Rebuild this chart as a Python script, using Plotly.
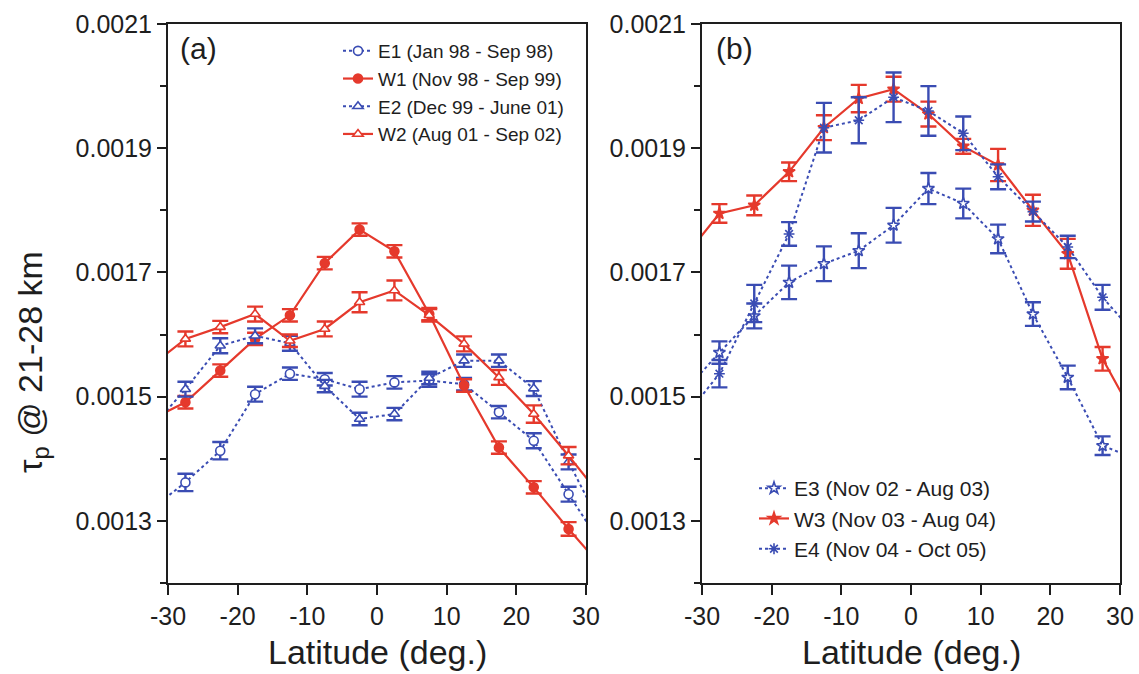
import plotly.graph_objects as go

# Latitude bin centres (deg.)
lat = [-27.5, -22.5, -17.5, -12.5, -7.5, -2.5, 2.5, 7.5, 12.5, 17.5, 22.5, 27.5]
# neighbouring bins just outside the plotted +/-30 deg window (only their connecting lines show)
lat_out = (-32.5, 32.5)

# ---- panel (a) ----
e1 = [0.001362, 0.001413, 0.001504, 0.001537, 0.001528, 0.001512,
      0.001523, 0.001526, 0.001520, 0.001475, 0.001429, 0.001343]
e1_err = [0.000014, 0.000014, 0.000012, 0.000010, 0.000010, 0.000012,
          0.000010, 0.000010, 0.000010, 0.000010, 0.000012, 0.000012]
e1_out = (0.001318, 0.001257)

w1 = [0.001491, 0.001542, 0.001593, 0.001631, 0.001715, 0.001769,
      0.001734, 0.001633, 0.001518, 0.001418, 0.001354, 0.001287]
w1_err = [0.000010, 0.000010, 0.000010, 0.000010, 0.000010, 0.000010,
          0.000010, 0.000010, 0.000010, 0.000010, 0.000010, 0.000011]
w1_out = (0.001463, 0.001223)

e2 = [0.001512, 0.001582, 0.001598, 0.001586, 0.001517, 0.001464,
      0.001472, 0.001530, 0.001558, 0.001558, 0.001513, 0.001395]
e2_err = [0.000012, 0.000012, 0.000012, 0.000012, 0.000010, 0.000010,
          0.000010, 0.000010, 0.000010, 0.000010, 0.000012, 0.000012]
e2_out = (0.001448, 0.001285)

w2 = [0.001593, 0.001612, 0.001633, 0.001590, 0.001609, 0.001652,
      0.001671, 0.001631, 0.001585, 0.001531, 0.001472, 0.001405]
w2_err = [0.000012, 0.000010, 0.000012, 0.000010, 0.000012, 0.000016,
          0.000016, 0.000010, 0.000012, 0.000012, 0.000014, 0.000014]
w2_out = (0.001549, 0.001335)

# ---- panel (b) ----
e3 = [0.001571, 0.001630, 0.001684, 0.001714, 0.001735, 0.001776,
      0.001835, 0.001811, 0.001754, 0.001633, 0.001531, 0.001421]
e3_err = [0.000018, 0.000020, 0.000027, 0.000028, 0.000028, 0.000028,
          0.000025, 0.000024, 0.000023, 0.000019, 0.000019, 0.000015]
e3_out = (0.001509, 0.001399)

w3 = [0.001795, 0.001808, 0.001862, 0.001933, 0.001980, 0.001995,
      0.001955, 0.001903, 0.001873, 0.001800, 0.001730, 0.001561]
w3_err = [0.000015, 0.000016, 0.000015, 0.000020, 0.000022, 0.000020,
          0.000020, 0.000012, 0.000026, 0.000025, 0.000024, 0.000019]
w3_out = (0.001725, 0.001459)

e4 = [0.001537, 0.001650, 0.001762, 0.001933, 0.001945, 0.001982,
      0.001960, 0.001924, 0.001854, 0.001798, 0.001741, 0.001660]
e4_err = [0.000022, 0.000030, 0.000019, 0.000040, 0.000037, 0.000040,
          0.000040, 0.000027, 0.000020, 0.000016, 0.000018, 0.000020]
e4_out = (0.001467, 0.001596)

y_ticks = [0.0013, 0.0015, 0.0017, 0.0019, 0.0021]
y_ticktext = ["0.0013", "0.0015", "0.0017", "0.0019", "0.0021"]
y_minor = [0.0012, 0.0014, 0.0016, 0.0018, 0.0020]
x_ticks = [-30, -20, -10, 0, 10, 20, 30]
x_ticktext = ["-30", "-20", "-10", "0", "10", "20", "30"]

BLUE = "#3a4cb3"
RED = "#e5392c"
INK = "#1e1e1e"
FONT = "Liberation Sans, Arial, Helvetica, sans-serif"

W, H = 1139, 674


def series(name, vals, errs, outs, color, dash, symbol, fill, xa, ya, legend):
    xs = [lat_out[0]] + lat + [lat_out[1]]
    ys = [outs[0]] + vals + [outs[1]]
    es = [0.0] + errs + [0.0]
    return go.Scatter(
        x=xs, y=ys, name=name, mode="lines+markers",
        xaxis=xa, yaxis=ya, legend=legend,
        line=dict(color=color, width=2.2 if dash == "solid" else 2, dash=dash),
        marker=dict(symbol=symbol, size=9, color=fill,
                    line=dict(color=color, width=1.6)),
        error_y=dict(type="data", array=es, visible=True,
                     color=color, thickness=2.4, width=8),
        cliponaxis=True,
    )


fig = go.Figure()
fig.add_trace(series("E1 (Jan 98 - Sep 98)", e1, e1_err, e1_out, BLUE, "dot",
                     "circle", "white", "x", "y", "legend"))
fig.add_trace(series("W1 (Nov 98 - Sep 99)", w1, w1_err, w1_out, RED, "solid",
                     "circle", RED, "x", "y", "legend"))
fig.add_trace(series("E2 (Dec 99 - June 01)", e2, e2_err, e2_out, BLUE, "dot",
                     "triangle-up", "white", "x", "y", "legend"))
fig.add_trace(series("W2 (Aug 01 - Sep 02)", w2, w2_err, w2_out, RED, "solid",
                     "triangle-up", "white", "x", "y", "legend"))

fig.add_trace(series("E3 (Nov 02 - Aug 03)", e3, e3_err, e3_out, BLUE, "dot",
                     "star", "white", "x2", "y2", "legend2"))
fig.add_trace(series("W3 (Nov 03 - Aug 04)", w3, w3_err, w3_out, RED, "solid",
                     "star", RED, "x2", "y2", "legend2"))
fig.add_trace(series("E4 (Nov 04 - Oct 05)", e4, e4_err, e4_out, BLUE, "dot",
                     "asterisk-open", BLUE, "x2", "y2", "legend2"))

# plot frames in pixels
ax_a = (168, 586)
ax_b = (702, 1120)
top_px, bot_px = 24, 583
ydom = [(H - bot_px) / H, (H - top_px) / H]

xcommon = dict(range=[-30, 30], tickmode="array", tickvals=x_ticks,
               ticktext=x_ticktext,
               showline=True, linecolor=INK, linewidth=2, mirror=True,
               ticks="outside", ticklen=10, tickwidth=2, tickcolor=INK,
               showgrid=False, zeroline=False, automargin=False,
               tickfont=dict(size=25, color=INK, family=FONT))
ycommon = dict(range=[0.0012, 0.0021], tickmode="array", tickvals=y_ticks,
               ticktext=y_ticktext, domain=ydom,
               showline=True, linecolor=INK, linewidth=2, mirror=True,
               ticks="outside", ticklen=9, tickwidth=2, tickcolor=INK,
               minor=dict(tickvals=y_minor, ticks="outside", ticklen=6,
                          tickwidth=2, tickcolor=INK, showgrid=False),
               showgrid=False, zeroline=False, automargin=False,
               tickfont=dict(size=25, color=INK, family=FONT))

fig.update_layout(
    width=W, height=H,
    margin=dict(l=0, r=0, t=0, b=0),
    paper_bgcolor="white", plot_bgcolor="white",
    font=dict(family=FONT, color=INK),
    xaxis=dict(domain=[ax_a[0] / W, ax_a[1] / W], anchor="y", **xcommon),
    yaxis=dict(anchor="x", **ycommon),
    xaxis2=dict(domain=[ax_b[0] / W, ax_b[1] / W], anchor="y2", **xcommon),
    yaxis2=dict(anchor="x2", **ycommon),
    legend=dict(x=338 / W, y=(H - 32) / H, xanchor="left", yanchor="top",
                bgcolor="rgba(0,0,0,0)", borderwidth=0,
                font=dict(size=19, color=INK, family=FONT)),
    legend2=dict(x=754 / W, y=(H - 468) / H, xanchor="left", yanchor="top",
                 bgcolor="rgba(0,0,0,0)", borderwidth=0,
                 font=dict(size=21, color=INK, family=FONT)),
    showlegend=True,
)

annotations = [
    dict(text="(a)", x=178 / W, y=(H - 48) / H, xref="paper", yref="paper",
         xanchor="left", yanchor="middle", showarrow=False,
         font=dict(size=30, color=INK, family=FONT)),
    dict(text="(b)", x=714 / W, y=(H - 48) / H, xref="paper", yref="paper",
         xanchor="left", yanchor="middle", showarrow=False,
         font=dict(size=30, color=INK, family=FONT)),
    dict(text="Latitude (deg.)", x=(ax_a[0] + ax_a[1]) / 2 / W, y=(H - 652) / H,
         xref="paper", yref="paper", xanchor="center", yanchor="middle",
         showarrow=False, font=dict(size=34, color=INK, family=FONT)),
    dict(text="Latitude (deg.)", x=(ax_b[0] + ax_b[1]) / 2 / W, y=(H - 652) / H,
         xref="paper", yref="paper", xanchor="center", yanchor="middle",
         showarrow=False, font=dict(size=34, color=INK, family=FONT)),
    dict(text="τ<sub>p</sub> @ 21-28 km", x=32 / W, y=(H - 362) / H,
         xref="paper", yref="paper", xanchor="center", yanchor="middle",
         textangle=-90, showarrow=False,
         font=dict(size=34, color=INK, family=FONT)),
]
fig.update_layout(annotations=annotations)

fig.write_html("out.html")
